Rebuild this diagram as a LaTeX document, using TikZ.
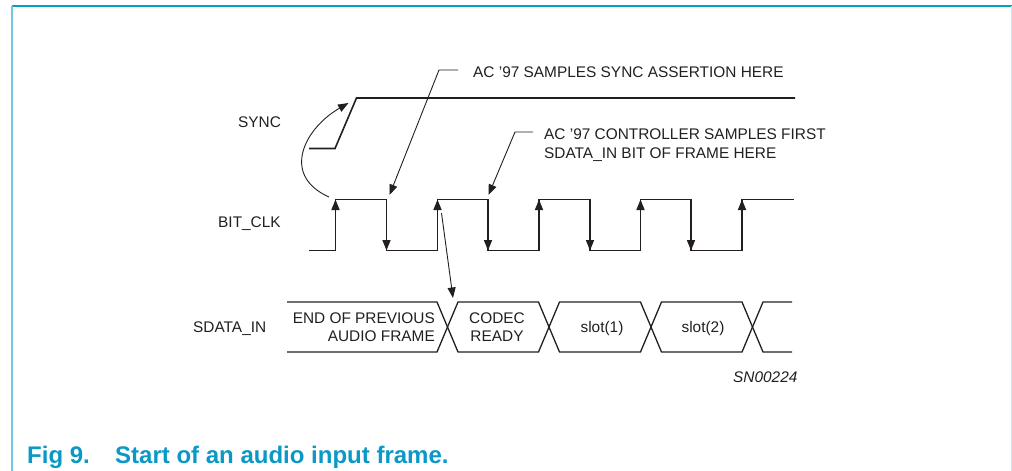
\documentclass[tikz,border=0pt]{standalone}
\usepackage{fontspec}
\setmainfont{Liberation Sans}
\usetikzlibrary{arrows.meta}
\definecolor{capblue}{RGB}{10,152,198}
\definecolor{frametop}{RGB}{0,160,205}
\definecolor{frameleft}{RGB}{110,200,225}
\definecolor{frameright}{RGB}{205,230,240}
\definecolor{txt}{RGB}{35,31,32}
\tikzset{
  wave/.style={line width=1.6pt,line join=miter,draw=txt},
  bus/.style={line width=1.3pt,line join=miter,draw=txt},
  lead/.style={line width=0.9pt,draw=txt},
  tip/.style={-{Triangle[length=10.5pt,width=8pt]}},
  lbl/.style={inner sep=0pt,anchor=base west,text=txt,font=\fontsize{15.4}{18}\selectfont},
  lblc/.style={inner sep=0pt,anchor=base,text=txt,font=\fontsize{15.4}{18}\selectfont},
  lble/.style={inner sep=0pt,anchor=base east,text=txt,font=\fontsize{15.4}{18}\selectfont},
}
\begin{document}
\begin{tikzpicture}[x=1pt,y=-1pt]
\useasboundingbox (0,0) rectangle (1012,471);
% frame
\draw[frametop,line width=1.6pt] (12,6) -- (1011.5,6);
\draw[frameleft,line width=1.8pt] (12,6) -- (12,471);
\draw[frameright,line width=1pt] (1011.5,6) -- (1011.5,471);
% signal labels
\node[lbl] (lsync) at (238,127.5) {SYNC};
\node[lbl] (lclk) at (218,227.5) {BIT\_CLK};
\node[lbl] (lsd) at (193,332.5) {SDATA\_IN};
% SYNC waveform
\draw[wave] (309,148.5) -- (335,148.5) -- (356.5,98) -- (795,98);
% BIT_CLK waveform
\draw[wave] (309,250.5) -- (335.5,250.5) -- (335.5,199.5) -- (386.5,199.5) -- (386.5,250.5)
  -- (437.5,250.5) -- (437.5,199.5) -- (488,199.5) -- (488,250.5)
  -- (539,250.5) -- (539,199.5) -- (590,199.5) -- (590,250.5)
  -- (640.5,250.5) -- (640.5,199.5) -- (691,199.5) -- (691,250.5)
  -- (742,250.5) -- (742,199.5) -- (794,199.5);
% edge arrowheads
\foreach \x in {335.5,437.5,539,640.5,742}
  \draw[wave,tip] (\x,225) -- (\x,199.5);
\foreach \x in {386.5,488,590,691}
  \draw[wave,tip] (\x,225) -- (\x,250.5);
% SDATA_IN bus
\draw[bus] (287,302) -- (437,302) -- (458,352) -- (538.5,352) -- (559.5,302) -- (640.5,302) -- (661.5,352) -- (742,352) -- (763,302) -- (792,302);
\draw[bus] (287,352) -- (437,352) -- (458,302) -- (538.5,302) -- (559.5,352) -- (640.5,352) -- (661.5,302) -- (742,302) -- (763,352) -- (792,352);
\node[lble] (b1a) at (435,323) {END OF PREVIOUS};
\node[lble] (b1b) at (435,341) {AUDIO FRAME};
\node[lblc] (b2a) at (497,323) {CODEC};
\node[lblc] (b2b) at (497,341) {READY};
\node[lblc] (b3) at (602,332.5) {slot(1)};
\node[lblc] (b4) at (703,332.5) {slot(2)};
\node[lbl,font=\fontsize{15.4}{18}\selectfont\itshape] (sn) at (733,382) {SN00224};
% annotations
\node[lbl] (a1) at (473,77) {AC '97 SAMPLES SYNC ASSERTION HERE};
\node[lbl] (a2) at (544,139) {AC '97 CONTROLLER SAMPLES FIRST};
\node[lbl] (a2b) at (544,158) {SDATA\_IN BIT OF FRAME HERE};
\coordinate (k1) at (458,70);
\coordinate (k1b) at (439,70);
\coordinate (e1) at (389.5,195);
\draw[lead,tip] (k1) -- (k1b) -- (e1);
\coordinate (k2) at (533,132);
\coordinate (k2b) at (515,132);
\coordinate (e2) at (488.5,195);
\draw[lead,tip] (k2) -- (k2b) -- (e2);
\coordinate (s3) at (441.5,213);
\coordinate (e3) at (453,298);
\draw[lead,tip] (s3) -- (e3);
% curved arrow from BIT_CLK to SYNC
\coordinate (cs) at (329,197);
\coordinate (ce) at (348.5,103);
\draw[lead,tip] (cs) .. controls (280,175) and (305,128) .. (ce);
% caption
\node[inner sep=0pt,anchor=base west,text=capblue,font=\fontsize{24}{26}\selectfont\bfseries] (cap1) at (27,463) {Fig 9.};
\node[inner sep=0pt,anchor=base west,text=capblue,font=\fontsize{24}{26}\selectfont\bfseries] (cap2) at (115,463) {Start of an audio input frame.};
\end{tikzpicture}
\end{document}
